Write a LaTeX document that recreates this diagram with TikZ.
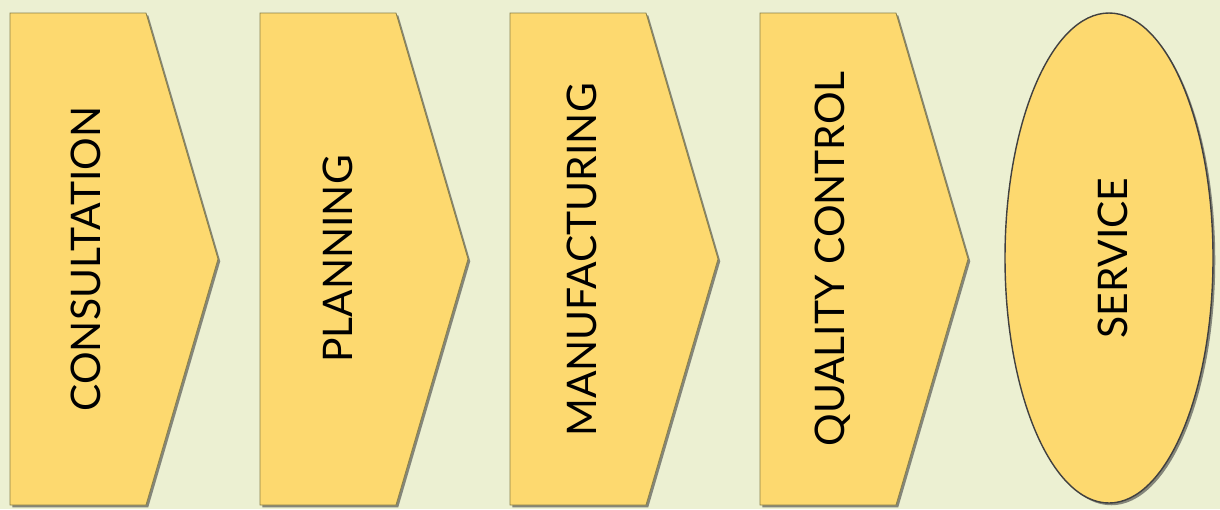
\documentclass[tikz,border=0pt]{standalone}
\usepackage{fontspec}
\setmainfont{Lato}
\usepackage{tikz}
\usetikzlibrary{shadows}

\definecolor{bgcol}{HTML}{ECF0D2}
\definecolor{stepfill}{HTML}{FDD96F}
\definecolor{stepline}{HTML}{8A8048}

\tikzset{
  stepshape/.style={fill=stepfill, draw=stepline, line width=0.6pt,
    drop shadow={shadow xshift=1.6pt, shadow yshift=-1.6pt, opacity=0.6, fill=black!75}},
  steplabel/.style={rotate=90, font=\fontsize{29}{32}\selectfont, text=black}
}

\begin{document}
\begin{tikzpicture}[x=0.025cm, y=-0.025cm]
  % Background
  \fill[bgcol] (0,0) rectangle (1220,509);
  \useasboundingbox (0,0) rectangle (1220,509);

  % Consultation
  \draw[stepshape] (10,13) -- (146,13) -- (218,259) -- (146,505) -- (10,505) -- cycle;
  \node[steplabel] (consult) at (86,259) {CONSULTATION};

  % Planning
  \draw[stepshape] (260,13) -- (396,13) -- (468,259) -- (396,505) -- (260,505) -- cycle;
  \node[steplabel] (plan) at (338,259) {PLANNING};

  % Manufacturing
  \draw[stepshape] (510,13) -- (646,13) -- (718,259) -- (646,505) -- (510,505) -- cycle;
  \node[steplabel] (manuf) at (582,260) {MANUFACTURING};

  % Quality control
  \draw[stepshape] (760,13) -- (896,13) -- (968,259) -- (896,505) -- (760,505) -- cycle;
  \node[steplabel] (quality) at (833,259) {QUALITY CONTROL};

  % Service
  \draw[stepshape, draw=black!75, line width=1pt] (1109,258) ellipse (104 and 245);
  \node[steplabel] (service) at (1113,258) {SERVICE};
\end{tikzpicture}
\end{document}
